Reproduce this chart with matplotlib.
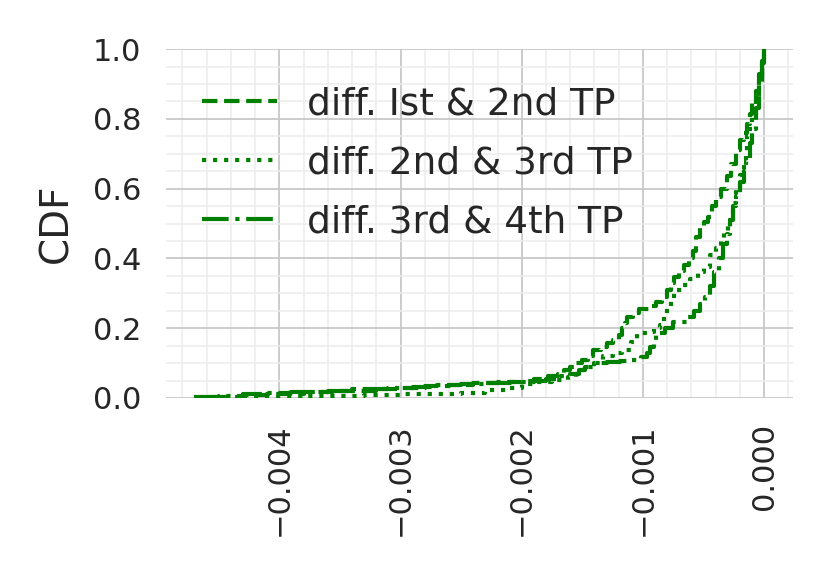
import matplotlib
matplotlib.use("Agg")
import matplotlib.pyplot as plt
from matplotlib.ticker import MultipleLocator

# (x, CDF) breakpoints, drawn as steps-post
x_12 = [-0.00455, -0.0043, -0.0041, -0.0038, -0.0035, -0.0032, -0.0030, -0.0028, -0.0026,
        -0.0024, -0.0022, -0.0020, -0.0019, -0.00178, -0.0017, -0.00165, -0.0016, -0.00155,
        -0.0015, -0.00145, -0.00141, -0.00135, -0.0013, -0.00125, -0.0012, -0.00117, -0.00115,
        -0.00113, -0.00108, -0.00103, -0.00095, -0.00089, -0.00084, -0.0008, -0.00077, -0.00074,
        -0.0007, -0.00066, -0.00062, -0.00059, -0.00056, -0.00053, -0.0005, -0.00046, -0.00043,
        -0.0004, -0.00036, -0.00031, -0.00027, -0.00023, -0.0002, -0.00017, -0.00014, -0.00012,
        -0.0001, -0.00007, -0.00004, -0.00002, 0.0]
y_12 = [0.004, 0.008, 0.012, 0.016, 0.02, 0.025, 0.03, 0.034, 0.038,
        0.042, 0.046, 0.05, 0.055, 0.062, 0.07, 0.08, 0.09, 0.1,
        0.11, 0.12, 0.137, 0.147, 0.157, 0.167, 0.18, 0.2, 0.215,
        0.232, 0.245, 0.255, 0.265, 0.275, 0.29, 0.31, 0.33, 0.347,
        0.365, 0.38, 0.4, 0.42, 0.46, 0.49, 0.505, 0.52, 0.55,
        0.575, 0.6, 0.635, 0.67, 0.71, 0.74, 0.76, 0.785, 0.815,
        0.845, 0.88, 0.93, 0.965, 1.0]

x_23 = [-0.0043, -0.0038, -0.0033, -0.0030, -0.0027, -0.0025, -0.0023, -0.0021, -0.0020,
        -0.0019, -0.00175, -0.00162, -0.00155, -0.0015, -0.00145, -0.0014, -0.00133, -0.00125,
        -0.00117, -0.0011, -0.00105, -0.00097, -0.00091, -0.00086, -0.00083, -0.0008, -0.00077,
        -0.00074, -0.00068, -0.00061, -0.00055, -0.0005, -0.00045, -0.0004, -0.00036, -0.00033,
        -0.0003, -0.00026, -0.00023, -0.0002, -0.00017, -0.00015, -0.00014, -0.00012, -0.0001,
        -0.00007, -0.00004, -0.00002, 0.0]
y_23 = [0.003, 0.005, 0.008, 0.01, 0.012, 0.015, 0.022, 0.03, 0.04,
        0.045, 0.052, 0.06, 0.07, 0.08, 0.09, 0.1, 0.12, 0.13,
        0.137, 0.16, 0.185, 0.19, 0.2, 0.21, 0.235, 0.26, 0.285,
        0.31, 0.325, 0.34, 0.36, 0.375, 0.41, 0.43, 0.45, 0.48,
        0.51, 0.56, 0.6, 0.64, 0.67, 0.7, 0.75, 0.78, 0.81,
        0.86, 0.92, 0.96, 1.0]

x_34 = [-0.0047, -0.0045, -0.0043, -0.0041, -0.0039, -0.0036, -0.0034, -0.0031, -0.0029,
        -0.0027, -0.0025, -0.0023, -0.0021, -0.0019, -0.0018, -0.0017, -0.0016, -0.00153,
        -0.00148, -0.0014, -0.0013, -0.00119, -0.0011, -0.00102, -0.00097, -0.00094, -0.00091,
        -0.00089, -0.00082, -0.00075, -0.00064, -0.00058, -0.00053, -0.00049, -0.00045, -0.00041,
        -0.00037, -0.00034, -0.00031, -0.00028, -0.00026, -0.00023, -0.0002, -0.00017, -0.00015,
        -0.00012, -0.0001, -0.00007, -0.00004, -0.00002, 0.0]
y_34 = [0.003, 0.006, 0.01, 0.013, 0.017, 0.021, 0.025, 0.029, 0.032,
        0.036, 0.04, 0.043, 0.046, 0.05, 0.055, 0.062, 0.07, 0.08,
        0.09, 0.1, 0.103, 0.106, 0.11, 0.117, 0.13, 0.146, 0.165,
        0.186, 0.2, 0.218, 0.232, 0.25, 0.27, 0.29, 0.32, 0.36,
        0.4, 0.44, 0.47, 0.51, 0.55, 0.58, 0.62, 0.65, 0.68,
        0.73, 0.77, 0.83, 0.9, 0.96, 1.0]

labels = ["diff. Ist & 2nd TP", "diff. 2nd & 3rd TP", "diff. 3rd & 4th TP"]
series = [(x_12, y_12, "--"), (x_23, y_23, ":"), (x_34, y_34, "-.")]

fig = plt.figure(figsize=(8.3, 5.81), dpi=100)
ax = fig.add_axes([0.2, 0.315, 0.755, 0.6005])

for (xs, ys, ls), lab in zip(series, labels):
    ax.step(xs, ys, where="post", color="green", linestyle=ls, linewidth=3, label=lab)

ax.set_ylim(0, 1)
ax.margins(x=0.05)
ax.xaxis.set_major_locator(MultipleLocator(0.001))
ax.xaxis.set_minor_locator(MultipleLocator(0.0002))
ax.yaxis.set_major_locator(MultipleLocator(0.2))
ax.yaxis.set_minor_locator(MultipleLocator(0.05))
ax.grid(which="major", color="#c8c8c8", linewidth=1.3)
ax.grid(which="minor", color="#ececec", linewidth=1.1)
ax.set_axisbelow(True)
for s in ax.spines.values():
    s.set_visible(False)
ax.tick_params(which="both", length=0, labelsize=22, labelcolor="#262626")
ax.tick_params(axis="x", labelrotation=90, pad=18)
ax.tick_params(axis="y", pad=18)
ax.set_ylabel("CDF", fontsize=28, color="#262626", labelpad=12)

leg = ax.legend(loc="upper left", frameon=False, fontsize=27, handlelength=2.0,
                borderaxespad=0.4, labelspacing=0.62, bbox_to_anchor=(0.009, 0.98))
for t in leg.get_texts():
    t.set_color("#262626")

fig.savefig("out.png", dpi=100)
